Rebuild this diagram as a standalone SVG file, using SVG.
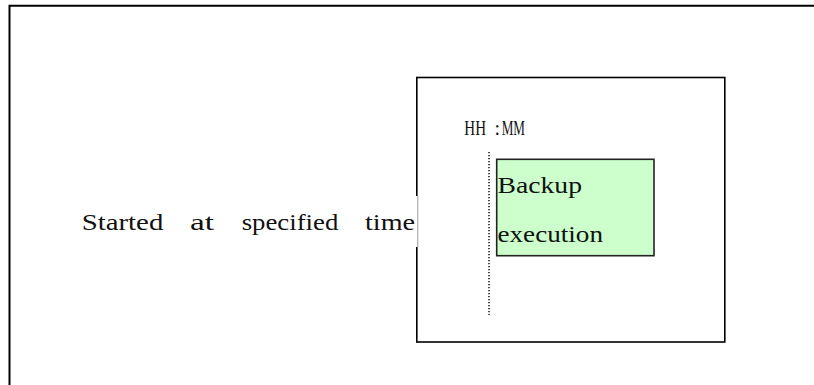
<svg xmlns="http://www.w3.org/2000/svg" width="814" height="385" viewBox="0 0 814 385">
<style>
.frame{fill:none;stroke:#000;stroke-width:2}
.box{fill:#fff;stroke:#000;stroke-width:1.6}
.green{fill:#ccffcc;stroke:#222;stroke-width:1.6}
.t{font-family:"Liberation Serif","DejaVu Serif",serif;fill:#111}
.dot{stroke:#111;stroke-width:1.5;stroke-dasharray:1.2 1.8;fill:none}
</style>
<rect width="814" height="385" fill="#fff"/>
<g id="frame">
<path class="frame" d="M9.5 385 V5.8 H814"/>
</g>
<g id="schedule-box">
<rect class="box" x="416.8" y="77.5" width="308" height="264.5"/>
</g>
<g id="start-label">
<rect x="60" y="196" width="357.5" height="51" fill="#fff"/>
<line x1="418" y1="196" x2="418" y2="247" stroke="#bbb" stroke-width="0.8"/>
<text class="t" y="229.5" font-size="24"><tspan x="81.7" textLength="81.6" lengthAdjust="spacingAndGlyphs">Started</tspan><tspan x="190" textLength="24" lengthAdjust="spacingAndGlyphs">at</tspan><tspan x="241.7" textLength="96.6" lengthAdjust="spacingAndGlyphs">specified</tspan><tspan x="365" textLength="50" lengthAdjust="spacingAndGlyphs">time</tspan></text>
</g>
<g id="time-label">
<text class="t" y="135" font-size="20"><tspan x="464.3" textLength="21.7" lengthAdjust="spacingAndGlyphs">HH</tspan><tspan x="494.5">:</tspan><tspan x="501.7" textLength="23.3" lengthAdjust="spacingAndGlyphs">MM</tspan></text>
</g>
<g id="connectors">
<line class="dot" x1="489" y1="152" x2="489" y2="315"/>
</g>
<g id="backup">
<rect class="green" x="496.7" y="159.3" width="157.3" height="96.4"/>
<text class="t" x="497.5" y="193.3" font-size="23.5" textLength="84.5" lengthAdjust="spacingAndGlyphs">Backup</text>
<text class="t" x="497.5" y="241.7" font-size="23.5" textLength="105.5" lengthAdjust="spacingAndGlyphs">execution</text>
</g>
</svg>
